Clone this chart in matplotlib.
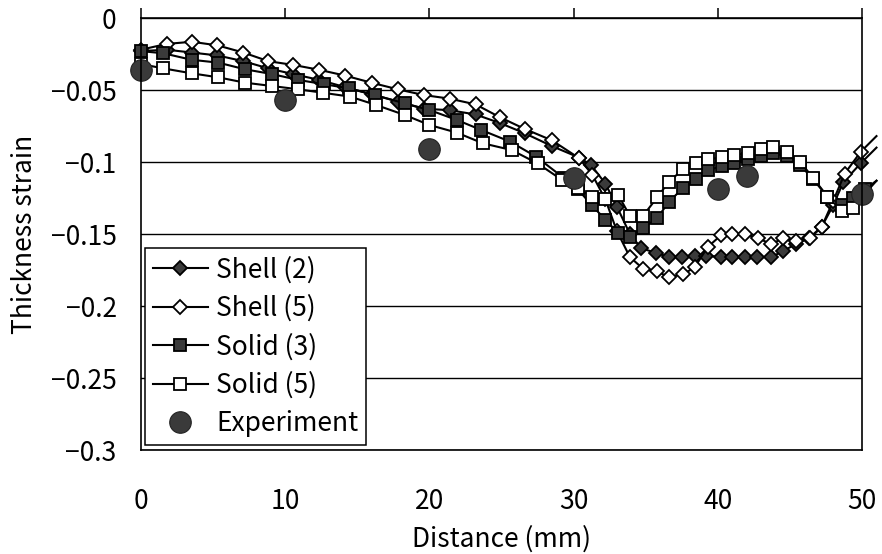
import matplotlib
matplotlib.use("Agg")
import matplotlib.pyplot as plt

plt.rcParams["font.family"] = ["Noto Sans CJK JP", "DejaVu Sans"]

# values (distance in mm, thickness strain)
shell2_x = [0, 1.78, 3.52, 5.3, 7.1, 8.83, 10.57, 12.37, 14.15, 16.0, 17.8, 19.6, 21.4,
            23.2, 24.9, 26.6, 28.5, 30.4, 31.2, 32.2, 33.0, 33.9, 34.7, 35.7, 36.6, 37.5,
            38.4, 39.2, 40.2, 41.0, 41.9, 42.7, 43.7, 44.5, 45.4, 46.3, 47.2, 48.0, 48.7,
            49.9, 51.0]
shell2_y = [-0.023, -0.022, -0.024, -0.026, -0.030, -0.035, -0.039, -0.043, -0.048, -0.053,
            -0.058, -0.063, -0.064, -0.067, -0.073, -0.080, -0.089, -0.097, -0.102, -0.115,
            -0.131, -0.150, -0.160, -0.163, -0.166, -0.166, -0.165, -0.165, -0.166, -0.166,
            -0.166, -0.166, -0.166, -0.162, -0.157, -0.153, -0.145, -0.130, -0.114, -0.101,
            -0.090]

shell5_x = [0, 1.78, 3.52, 5.3, 7.1, 8.83, 10.57, 12.37, 14.15, 16.0, 17.8, 19.6, 21.4,
            23.2, 24.9, 26.6, 28.5, 30.4, 31.3, 32.2, 33.0, 33.9, 34.8, 35.8, 36.6, 37.6,
            38.4, 39.3, 40.2, 41.0, 41.9, 42.8, 43.7, 44.5, 45.4, 46.4, 47.2, 48.0, 48.8,
            49.9, 51.0]
shell5_y = [-0.022, -0.018, -0.0165, -0.019, -0.024, -0.030, -0.0326, -0.036, -0.040, -0.045,
            -0.0495, -0.0535, -0.056, -0.060, -0.069, -0.077, -0.085, -0.0975, -0.109, -0.126,
            -0.148, -0.166, -0.174, -0.176, -0.180, -0.178, -0.173, -0.159, -0.151, -0.150,
            -0.150, -0.153, -0.157, -0.153, -0.155, -0.153, -0.145, -0.127, -0.108, -0.093,
            -0.082]

solid3_x = [0, 1.55, 3.5, 5.36, 7.2, 9.06, 10.9, 12.7, 14.4, 16.2, 18.3, 20.0, 21.9, 23.6,
            25.6, 27.4, 29.3, 30.3, 31.25, 32.2, 33.1, 33.9, 34.8, 35.8, 36.6, 37.6, 38.5,
            39.3, 40.3, 41.1, 42.1, 43.0, 43.8, 44.8, 45.7, 46.6, 47.6, 48.6, 49.4, 50.2,
            51.0]
solid3_y = [-0.023, -0.0245, -0.029, -0.031, -0.0356, -0.0389, -0.043, -0.046, -0.0488,
            -0.0535, -0.0593, -0.0639, -0.0708, -0.0778, -0.0859, -0.0963, -0.111, -0.119,
            -0.130, -0.140, -0.1495, -0.152, -0.146, -0.139, -0.1276, -0.118, -0.112, -0.1056,
            -0.103, -0.1005, -0.0981, -0.0958, -0.094, -0.0958, -0.102, -0.112, -0.124,
            -0.130, -0.125, -0.119, -0.113]

solid5_x = [0, 1.55, 3.5, 5.36, 7.2, 9.06, 10.9, 12.6, 14.5, 16.3, 18.3, 20.0, 21.9, 23.7,
            25.7, 27.5, 29.2, 30.3, 31.25, 32.2, 33.1, 33.9, 34.8, 35.8, 36.6, 37.6, 38.5,
            39.3, 40.3, 41.1, 42.1, 43.0, 43.8, 44.8, 45.7, 46.6, 47.6, 48.6, 49.4, 50.2,
            51.0]
solid5_y = [-0.032, -0.035, -0.0384, -0.0412, -0.0449, -0.0472, -0.0495, -0.0519, -0.0546,
            -0.0604, -0.0674, -0.0743, -0.0796, -0.087, -0.0917, -0.101, -0.1125, -0.118,
            -0.124, -0.126, -0.123, -0.1375, -0.1375, -0.1245, -0.1137, -0.105, -0.101,
            -0.0981, -0.0968, -0.0951, -0.094, -0.0912, -0.0894, -0.0928, -0.0998, -0.111,
            -0.124, -0.134, -0.132, -0.122, -0.113]

exp_x = [0, 10, 20, 30, 40, 42, 50]
exp_y = [-0.036, -0.057, -0.091, -0.111, -0.119, -0.110, -0.122]

x_ticks = [0, 10, 20, 30, 40, 50]
x_tick_labels = ["0", "10", "20", "30", "40", "50"]
y_ticks = [0, -0.05, -0.1, -0.15, -0.2, -0.25, -0.3]
y_tick_labels = ["0", "\u22120.05", "\u22120.1", "\u22120.15", "\u22120.2", "\u22120.25", "\u22120.3"]

fig = plt.figure(figsize=(8.82, 5.54), dpi=100)
ax = fig.add_axes([0.1599, 0.1877, 0.8175, 0.7798])

fill = "#3a3a3a"
line_kw = dict(color="black", linewidth=1.5, markeredgecolor="black",
               markeredgewidth=1.3, clip_on=False, markevery=slice(0, -1))

ax.plot(shell2_x, shell2_y, marker="D", markersize=7.5, markerfacecolor=fill,
        label="Shell (2)", **line_kw)
ax.plot(shell5_x, shell5_y, marker="D", markersize=7.5, markerfacecolor="white",
        label="Shell (5)", **line_kw)
ax.plot(solid3_x, solid3_y, marker="s", markersize=8.5, markerfacecolor=fill,
        label="Solid (3)", **line_kw)
ax.plot(solid5_x, solid5_y, marker="s", markersize=8.5, markerfacecolor="white",
        label="Solid (5)", **line_kw)
ax.plot(exp_x, exp_y, linestyle="none", marker="o", markersize=15.5,
        markerfacecolor=fill, markeredgecolor="#222222", markeredgewidth=0.8,
        clip_on=False, label="Experiment")

ax.set_xlim(0, 50)
ax.set_ylim(-0.3, 0)
ax.set_xticks(x_ticks)
ax.set_xticklabels(x_tick_labels)
ax.set_yticks(y_ticks)
ax.set_yticklabels(y_tick_labels)

ax.tick_params(axis="x", top=True, bottom=False, labeltop=False, labelbottom=True,
               direction="out", length=7, width=1.1, pad=20, labelsize=19)
ax.tick_params(axis="y", left=False, right=False, pad=14, labelsize=19)

ax.grid(axis="y", color="black", linewidth=1)
ax.set_axisbelow(True)
for s in ax.spines.values():
    s.set_linewidth(1.2)

ax.set_xlabel("Distance (mm)", fontsize=19, labelpad=8)
ax.set_ylabel("Thickness strain", fontsize=19, labelpad=9)

leg = ax.legend(loc="lower left", bbox_to_anchor=(0.005, 0.012), borderaxespad=0,
                fontsize=19, frameon=True, fancybox=False, framealpha=1,
                edgecolor="black", handlelength=2.1, handletextpad=0.3,
                labelspacing=0.42, borderpad=0.3)
leg.get_frame().set_linewidth(1.1)

fig.savefig("out.png", dpi=100)
